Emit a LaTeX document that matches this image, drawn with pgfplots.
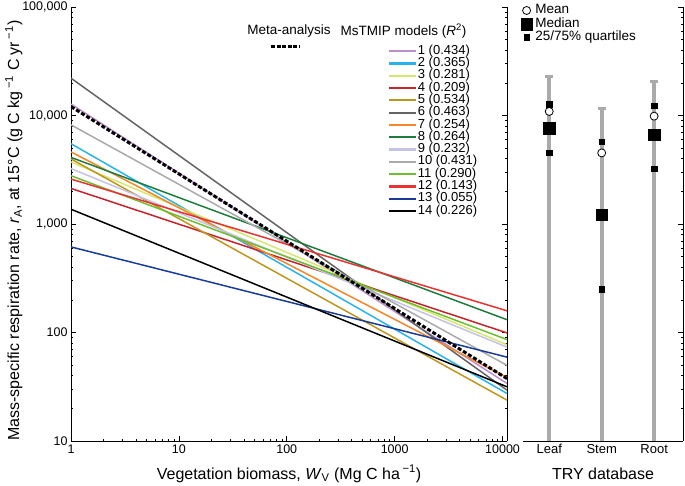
\documentclass[border=0pt]{standalone}
\usepackage{fontspec}
\setmainfont{Liberation Sans}
\usepackage{pgfplots}
\pgfplotsset{compat=1.18}

\definecolor{m1}{RGB}{188,143,204}
\definecolor{m2}{RGB}{40,180,235}
\definecolor{m3}{RGB}{215,230,110}
\definecolor{m4}{RGB}{200,35,45}
\definecolor{m5}{RGB}{190,150,30}
\definecolor{m6}{RGB}{100,100,100}
\definecolor{m7}{RGB}{245,135,40}
\definecolor{m8}{RGB}{30,125,60}
\definecolor{m9}{RGB}{195,195,230}
\definecolor{m10}{RGB}{170,170,170}
\definecolor{m11}{RGB}{110,190,50}
\definecolor{m12}{RGB}{235,50,50}
\definecolor{m13}{RGB}{25,60,150}
\definecolor{m14}{RGB}{0,0,0}
\definecolor{whisk}{RGB}{170,170,170}

\pgfplotsset{
  linelegend/.style={legend image code/.code={\draw[##1, line width=2.2pt] (0pt,0pt) -- (27pt,0pt);}},
  dotlegend/.style={legend image code/.code={\draw[##1] plot coordinates {(0pt,0pt)};}},
}

\begin{document}
\begin{tikzpicture}[x=1pt,y=1pt]
\path[use as bounding box] (0,0) rectangle (685,485);

\begin{axis}[
  at={(71pt,44pt)}, anchor=south west,
  width=436pt, height=434pt, scale only axis,
  xmode=log, ymode=log,
  xmin=1, xmax=11000, ymin=10, ymax=100000,
  axis x line*=bottom, axis y line*=box,
  tick align=inside,
  major tick length=5pt, minor tick length=2.5pt,
  tick style={black, line width=0.6pt},
  axis line style={line width=0.9pt},
  xtick={1,10,100,1000,10000},
  xticklabels={1,10,100,1000,10000},
  minor xtick={2,3,4,5,6,7,8,9,20,30,40,50,60,70,80,90,200,300,400,500,600,700,800,900,2000,3000,4000,5000,6000,7000,8000,9000},
  ytick={10,100,1000,10000,100000},
  yticklabels={10,100,{1,000},{10,000},{100,000}},
  minor ytick={20,30,40,50,60,70,80,90,200,300,400,500,600,700,800,900,2000,3000,4000,5000,6000,7000,8000,9000,20000,30000,40000,50000,60000,70000,80000,90000},
  ticklabel style={font=\fontsize{12.5}{14}\selectfont},
  xlabel={Vegetation biomass, \textit{W}\textsubscript{V} (Mg C ha\,\textsuperscript{−1})},
  ylabel={Mass-specific respiration rate, \textit{r}\textsubscript{A}, at 15°C (g C kg\,\textsuperscript{−1} C yr\,\textsuperscript{−1})},
  xlabel style={at={(axis description cs:0.5,0)}, anchor=base, yshift=-38pt, font=\fontsize{16}{18}\selectfont},
  ylabel style={at={(axis description cs:-0.131,0.485)}, anchor=center, rotate=0, font=\fontsize{16}{18}\selectfont},
  legend style={draw=none, fill=none, at={(0.727,0.913)}, anchor=north west,
    font=\fontsize{13}{13}\selectfont, inner sep=0pt, row sep=0pt,
    nodes={inner sep=0.5pt, text height=8.8pt, text depth=2.5pt}},
  legend cell align=left,
]
\addplot[m1, line width=1.5pt, linelegend] coordinates {(1,12760) (11000,33.9)};
\addlegendentry{1 (0.434)}
\addplot[m2, line width=1.5pt, linelegend] coordinates {(1,5495) (11000,27.4)};
\addlegendentry{2 (0.365)}
\addplot[m3, line width=1.5pt, linelegend] coordinates {(1,3730) (11000,77.1)};
\addlegendentry{3 (0.281)}
\addplot[m4, line width=1.5pt, linelegend] coordinates {(1,2128) (11000,99.1)};
\addlegendentry{4 (0.209)}
\addplot[m5, line width=1.5pt, linelegend] coordinates {(1,3980) (11000,23.8)};
\addlegendentry{5 (0.534)}
\addplot[m6, line width=1.5pt, linelegend] coordinates {(1,22080) (11000,29.4)};
\addlegendentry{6 (0.463)}
\addplot[m7, line width=1.5pt, linelegend] coordinates {(1,4613) (11000,38.5)};
\addlegendentry{7 (0.254)}
\addplot[m8, line width=1.5pt, linelegend] coordinates {(1,4110) (11000,131.2)};
\addlegendentry{8 (0.264)}
\addplot[m9, line width=1.5pt, linelegend] coordinates {(1,3243) (11000,73.3)};
\addlegendentry{9 (0.232)}
\addplot[m10, line width=1.5pt, linelegend] coordinates {(1,8204) (11000,49.8)};
\addlegendentry{10 (0.431)}
\addplot[m11, line width=1.5pt, linelegend] coordinates {(1,2786) (11000,86.1)};
\addlegendentry{11 (0.290)}
\addplot[m12, line width=1.5pt, linelegend] coordinates {(1,2594) (11000,158.5)};
\addlegendentry{12 (0.143)}
\addplot[m13, line width=1.5pt, linelegend] coordinates {(1,615) (11000,59.3)};
\addlegendentry{13 (0.055)}
\addplot[m14, line width=1.5pt, linelegend] coordinates {(1,1368) (11000,31.6)};
\addlegendentry{14 (0.226)}
% meta-analysis fit
\addplot[black, line width=3pt, dash pattern=on 4pt off 2pt, forget plot] coordinates {(1,12080) (11000,37.6)};
\end{axis}

% legend headings
\node[font=\fontsize{13.5}{14}\selectfont] at (289,454) {Meta-analysis};
\draw[black, line width=3pt, dash pattern=on 4pt off 1.6pt] (271,438.5) -- (300,438.5);
\node[font=\fontsize{13.5}{14}\selectfont] at (403.5,454) {MsTMIP models (\textit{R}\textsuperscript{2})};

\begin{axis}[
  at={(523pt,44pt)}, anchor=south west,
  width=160pt, height=434pt, scale only axis,
  ymode=log, ymin=10, ymax=100000,
  xmin=0.5, xmax=3.55,
  axis x line*=bottom, axis y line*=right,
  tick align=inside,
  major tick length=5pt, minor tick length=2.5pt,
  tick style={black, line width=0.6pt},
  axis line style={line width=0.9pt},
  xtick={1,2,3}, xticklabels={Leaf,Stem,Root},
  ytick={10,100,1000,10000,100000}, yticklabels={},
  minor ytick={20,30,40,50,60,70,80,90,200,300,400,500,600,700,800,900,2000,3000,4000,5000,6000,7000,8000,9000,20000,30000,40000,50000,60000,70000,80000,90000},
  ticklabel style={font=\fontsize{13}{14}\selectfont},
  xlabel={TRY database},
  xlabel style={at={(axis description cs:0.5,0)}, anchor=base, yshift=-38pt, font=\fontsize{16}{18}\selectfont},
  legend style={draw=none, fill=none, at={(-0.015,1.008)}, anchor=north west,
    font=\fontsize{13.5}{14}\selectfont, inner sep=0pt, row sep=0pt, column sep=2.5pt,
    nodes={inner sep=0.5pt, text height=9.5pt, text depth=3pt}},
  legend cell align=left,
  reverse legend,
]
% whiskers to the maximum
\addplot[whisk, line width=4pt, forget plot] coordinates {(1,10) (1,22700)};
\addplot[whisk, line width=4pt, forget plot] coordinates {(2,10) (2,11700)};
\addplot[whisk, line width=4pt, forget plot] coordinates {(3,10) (3,20500)};
\addplot[only marks, mark=-, mark size=4pt, mark options={draw=whisk, line width=3pt}, forget plot]
  coordinates {(1,22700) (2,11700) (3,20500)};
% quartiles
\addplot[only marks, mark=square*, mark size=2.8pt, black, dotlegend]
  coordinates {(1,12700) (1,4550) (2,5730) (2,251) (3,12300) (3,3230)};
\addlegendentry{25/75\% quartiles}
% median
\addplot[only marks, mark=square*, mark size=5.8pt, black, dotlegend]
  coordinates {(1,7650) (2,1217) (3,6640)};
\addlegendentry{Median}
% mean
\addplot[only marks, mark=*, mark size=4pt, mark options={fill=white, draw=black, line width=0.8pt}, dotlegend]
  coordinates {(1,10900) (2,4520) (3,9860)};
\addlegendentry{Mean}
\end{axis}
\end{tikzpicture}
\end{document}
